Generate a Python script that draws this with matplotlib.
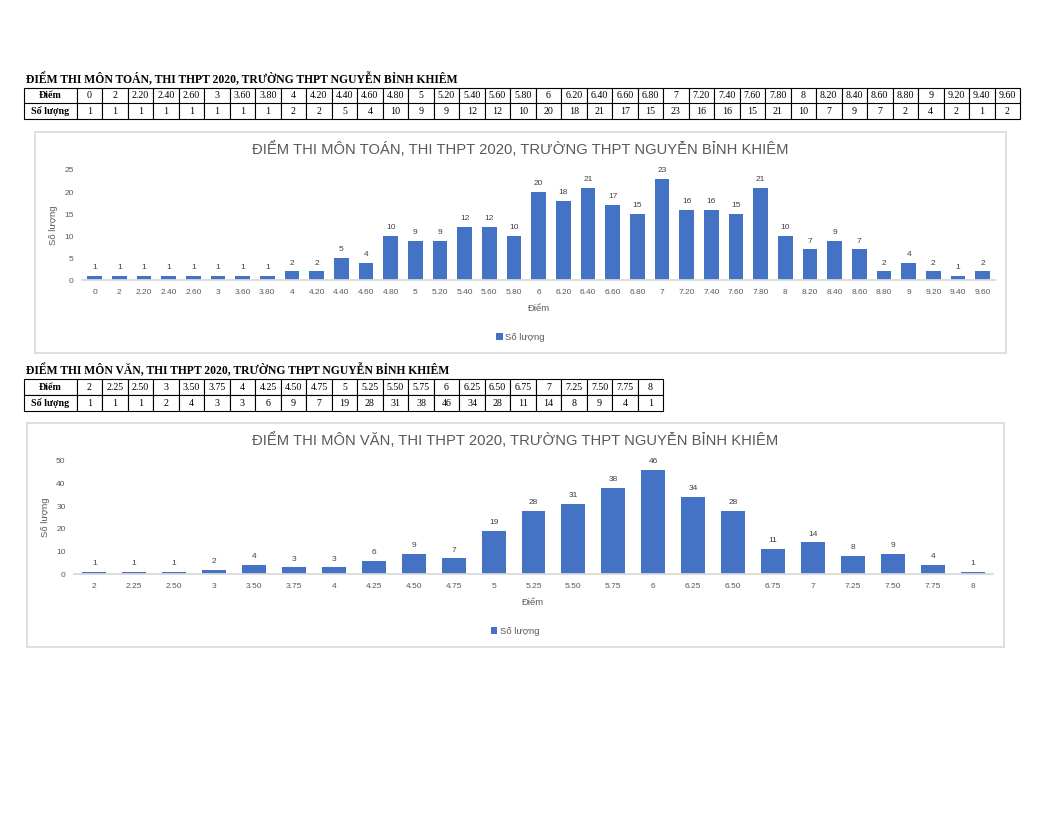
import matplotlib
matplotlib.use('Agg')
import matplotlib.pyplot as plt
from matplotlib.patches import Rectangle

W, H = 1056, 816

# ----------- data -----------
math_scores = ['0', '2', '2.20', '2.40', '2.60', '3', '3.60', '3.80', '4', '4.20',
               '4.40', '4.60', '4.80', '5', '5.20', '5.40', '5.60', '5.80', '6',
               '6.20', '6.40', '6.60', '6.80', '7', '7.20', '7.40', '7.60', '7.80',
               '8', '8.20', '8.40', '8.60', '8.80', '9', '9.20', '9.40', '9.60']
math_counts = [1, 1, 1, 1, 1, 1, 1, 1, 2, 2, 5, 4, 10, 9, 9, 12, 12, 10, 20,
               18, 21, 17, 15, 23, 16, 16, 15, 21, 10, 7, 9, 7, 2, 4, 2, 1, 2]

lit_scores = ['2', '2.25', '2.50', '3', '3.50', '3.75', '4', '4.25', '4.50',
              '4.75', '5', '5.25', '5.50', '5.75', '6', '6.25', '6.50', '6.75',
              '7', '7.25', '7.50', '7.75', '8']
lit_counts = [1, 1, 1, 2, 4, 3, 3, 6, 9, 7, 19, 28, 31, 38, 46, 34, 28, 11,
              14, 8, 9, 4, 1]

math_title = 'ĐIỂM THI MÔN TOÁN, THI THPT 2020, TRƯỜNG THPT NGUYỄN BỈNH KHIÊM'
lit_title = 'ĐIỂM THI MÔN VĂN, THI THPT 2020, TRƯỜNG THPT NGUYỄN BỈNH KHIÊM'
row_labels = ['Điểm', 'Số lượng']
x_label = 'Điểm'
y_label = 'Số lượng'

BLUE = '#4472C4'
GREY = '#595959'
BORDER = '#D9D9D9'

plt.rcParams['font.family'] = ['Liberation Sans', 'DejaVu Sans']


def fx(x):
    return x / W


def fy(y):
    return 1 - y / H


def box(x0, y0, x1, y1):
    # pixel box (origin top-left) -> [left, bottom, width, height] in figure fraction
    return [x0 / W, 1 - y1 / H, (x1 - x0) / W, (y1 - y0) / H]


def draw_table(fig, title, scores, counts, x0, y0, x1, y1):
    fig.text(fx(x0 + 2.5), fy(y0 - 9), title, fontfamily='Liberation Serif',
             fontweight='bold', fontsize=8.4, ha='left', va='center')
    ax = fig.add_axes(box(x0, y0, x1, y1))
    ax.axis('off')
    first = 52.7
    rest = (x1 - x0 - first) / len(scores)
    widths = [first / (x1 - x0)] + [rest / (x1 - x0)] * len(scores)
    cells = [[row_labels[0]] + scores,
             [row_labels[1]] + [str(c) for c in counts]]
    tb = ax.table(cellText=cells, colWidths=widths, cellLoc='center',
                  bbox=[0, 0, 1, 1])
    tb.auto_set_font_size(False)
    tb.set_fontsize(7.2)
    for (r, c), cell in tb.get_celld().items():
        cell.set_linewidth(0.8)
        cell.set_edgecolor('black')
        cell.get_text().set_fontfamily('Liberation Serif')
        if c == 0:
            cell.get_text().set_fontweight('bold')


def draw_chart(fig, title, scores, counts, frame, plot, ymax, step,
               title_y, ylabel_x, xlabel_y, legend_y):
    f0, g0, f1, g1 = frame
    fig.add_artist(Rectangle((fx(f0), fy(g1)), (f1 - f0) / W, (g1 - g0) / H,
                             transform=fig.transFigure, fill=False,
                             edgecolor=BORDER, lw=1.2))
    cx = (f0 + f1) / 2
    fig.text(fx(cx), fy(title_y), title, fontsize=10.6, color=GREY,
             ha='center', va='center')

    ax = fig.add_axes(box(*plot))
    bars = ax.bar(range(len(scores)), counts, width=0.6, color=BLUE)
    ax.bar_label(bars, padding=3.5, fontsize=6, color='#404040')
    ax.set_xlim(-0.5, len(scores) - 0.5)
    ax.set_ylim(0, ymax)
    ax.set_yticks(range(0, ymax + 1, step))
    ax.set_xticks(range(len(scores)), scores)
    ax.tick_params(length=0, labelsize=6, labelcolor=GREY, pad=6.3)
    for s in ['top', 'right', 'left']:
        ax.spines[s].set_visible(False)
    ax.spines['bottom'].set_color(BORDER)
    ax.spines['bottom'].set_linewidth(1.3)
    ax.patch.set_visible(False)

    px = (plot[0] + plot[2]) / 2
    py = (plot[1] + plot[3]) / 2
    fig.text(fx(px), fy(xlabel_y), x_label, fontsize=6.8, color=GREY,
             ha='center', va='center')
    fig.text(fx(ylabel_x), fy(py), y_label, fontsize=6.8, color=GREY,
             ha='center', va='center', rotation=90)
    ax.legend([bars], [y_label], loc='center',
              bbox_to_anchor=(fx(cx), fy(legend_y)),
              bbox_transform=fig.transFigure, frameon=False, fontsize=6.8,
              handlelength=0.7, handleheight=0.7, handletextpad=0.3,
              labelcolor=GREY)


fig = plt.figure(figsize=(W / 100, H / 100), dpi=100)

draw_table(fig, math_title, math_scores, math_counts, 24, 88.5, 1020, 118.5)
draw_chart(fig, math_title, math_scores, math_counts,
           (35, 131.7, 1006, 352.7), (82.3, 170, 995, 280.3), 25, 5,
           149, 53.3, 308.3, 337)

draw_table(fig, lit_title, lit_scores, lit_counts, 24, 379, 663.3, 411)
draw_chart(fig, lit_title, lit_scores, lit_counts,
           (26.7, 423.3, 1004, 646.7), (74.3, 460.7, 992.7, 574.3), 50, 10,
           440, 45, 602.7, 631)

fig.savefig('out.png', dpi=100)
